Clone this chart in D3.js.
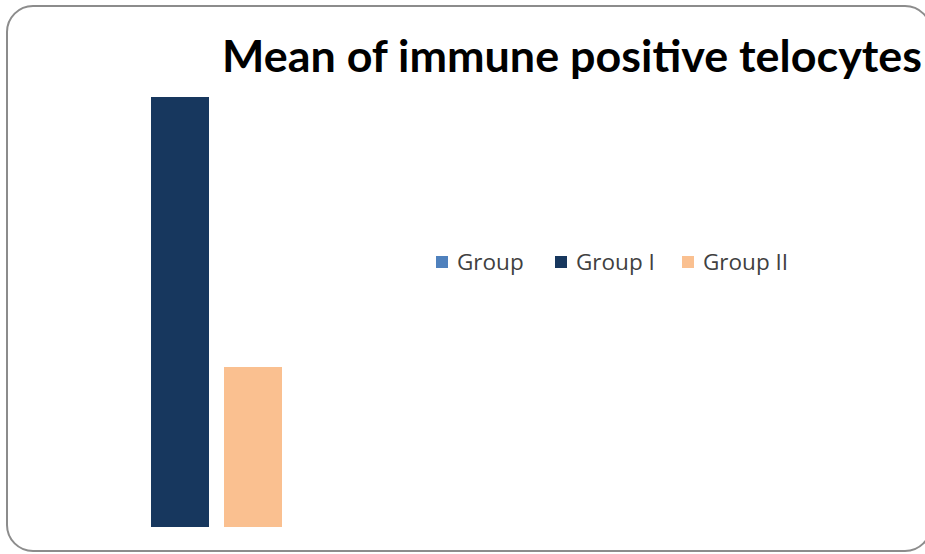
<!DOCTYPE html>
<html>
<head>
<meta charset="utf-8">
<script src="https://cdn.jsdelivr.net/npm/d3@7"></script>
<style>
html,body{margin:0;padding:0;background:#fff;overflow:hidden;}
svg{display:block;}
</style>
</head>
<body>
<svg id="chart" width="925" height="554"></svg>
<script>
const title = "Mean of immune positive telocytes";
const categories = ["Group", "Group I", "Group II"];
const values = [0, 43, 16];
const colors = ["#4F81BD", "#17375E", "#FAC090"];

const svg = d3.select("#chart");

// outer border
svg.append("rect")
  .attr("x", 7).attr("y", 6)
  .attr("width", 924).attr("height", 545)
  .attr("rx", 26).attr("ry", 26)
  .attr("fill", "#fff")
  .attr("stroke", "#8c8c8c").attr("stroke-width", 2);

// title
svg.append("text")
  .attr("x", 222).attr("y", 72)
  .attr("font-family", "Lato, 'Open Sans', sans-serif")
  .attr("font-weight", "bold")
  .attr("font-size", 43)
  .attr("fill", "#000")
  .attr("textLength", 700)
  .attr("lengthAdjust", "spacingAndGlyphs")
  .text(title);

// scales
const x = d3.scaleBand().domain(categories).range([78, 282]).paddingInner(15/73).paddingOuter(0);
const y = d3.scaleLinear().domain([0, d3.max(values)]).range([527, 97]);

svg.append("g").selectAll("rect")
  .data(categories)
  .join("rect")
  .attr("x", d => x(d))
  .attr("width", x.bandwidth())
  .attr("y", (d, i) => y(values[i]))
  .attr("height", (d, i) => y(0) - y(values[i]))
  .attr("fill", (d, i) => colors[i]);

// legend
const legendX = [436, 555, 682];
const lg = svg.append("g").selectAll("g")
  .data(categories)
  .join("g")
  .attr("transform", (d, i) => `translate(${legendX[i]},256)`);
lg.append("rect")
  .attr("width", 12).attr("height", 12)
  .attr("fill", (d, i) => colors[i]);
lg.append("text")
  .attr("x", 21).attr("y", 14)
  .attr("font-family", "'Open Sans', sans-serif")
  .attr("font-size", 22.5)
  .attr("fill", "#404040")
  .text(d => d);
</script>
</body>
</html>
